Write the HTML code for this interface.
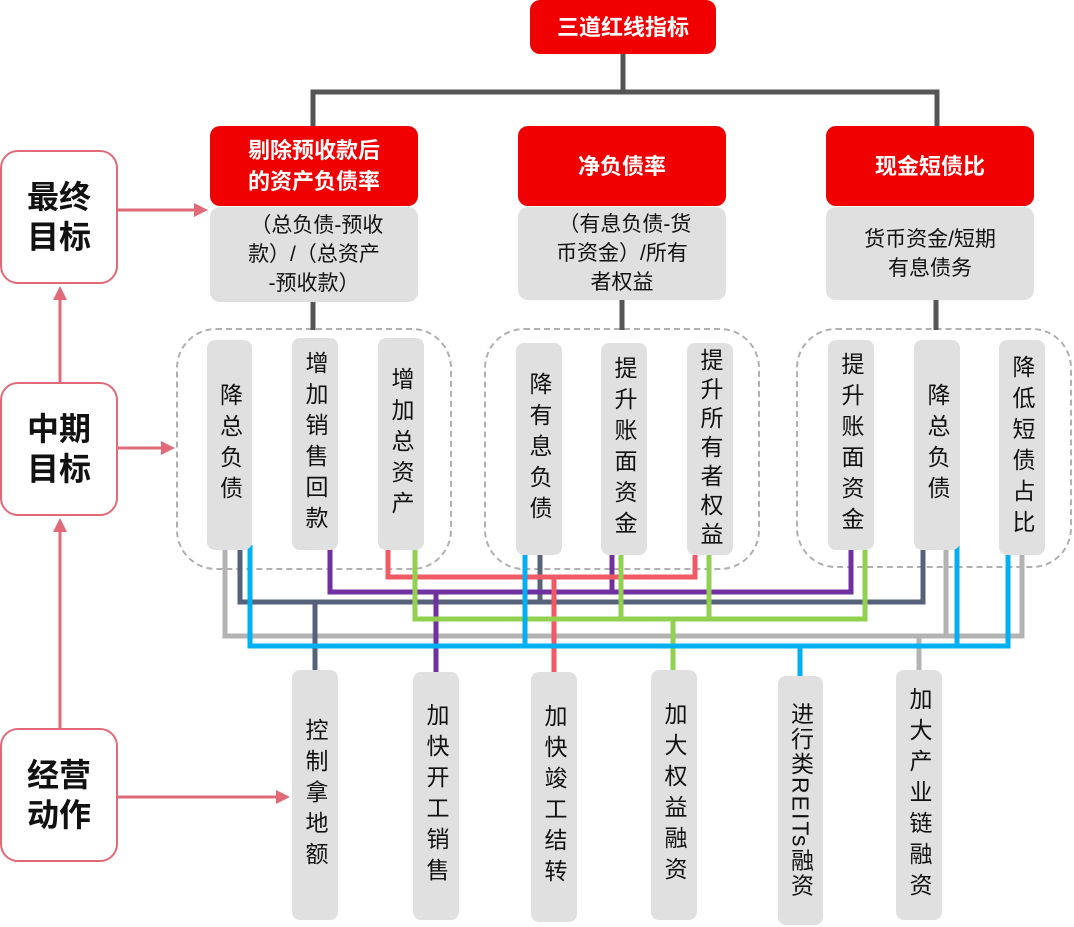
<!DOCTYPE html>
<html><head><meta charset="utf-8"><style>
body{margin:0;width:1074px;height:927px;background:#fff;position:relative;overflow:hidden;font-family:"Liberation Sans","Noto Sans CJK SC",sans-serif;}
.a{position:absolute;box-sizing:border-box;display:flex;align-items:center;justify-content:center;text-align:center;}
.red{background:#f00000;color:#fff;font-weight:bold;font-size:22px;line-height:31px;border-radius:10px;}
.f{background:#e0e0e0;color:#111;font-size:21px;line-height:29px;border-radius:10px;}
.v{background:#e0e0e0;color:#111;font-size:23px;border-radius:8px;}
.v span{writing-mode:vertical-rl;letter-spacing:8px;line-height:24px;white-space:nowrap;}
.l{border:2px solid #e06a78;border-radius:18px;background:#fff;font-size:32px;font-weight:bold;line-height:40px;color:#111;}
.d{position:absolute;border:2px dashed #b0b0b0;border-radius:40px;box-sizing:border-box;}
</style></head><body>
<div class="d" style="left:176px;top:328px;width:276px;height:242px"></div>
<div class="d" style="left:484px;top:328px;width:276px;height:242px"></div>
<div class="d" style="left:796px;top:328px;width:276px;height:240px"></div>
<svg style="position:absolute;left:0;top:0" width="1074" height="927">
<g fill="none" stroke-width="5">
<path d="M623 54V92M313 126V92H937V126M313 300V330M622 300V330M936 300V330" stroke="#555" stroke-width="5"/>
<path d="M225 545V636H1022V555M946 545V636M919 636V672" stroke="#b3b3b3"/>
<path d="M240 545V602H923V550M540 555V602M315 602V672" stroke="#56627a"/>
<path d="M330 545V592H851V550M612 555V592M436 592V674" stroke="#7030a0"/>
<path d="M388 550V577H695V555M554 577V674" stroke="#f05a64"/>
<path d="M415 550V619H865V550M621 555V619M709 555V619M673 619V672" stroke="#92d050"/>
<path d="M250 545V646H1008V555M525 555V646M957 545V646M800 646V678" stroke="#00b0f0"/>
</g>
<g stroke="#e06a78" stroke-width="3" fill="#e06a78">
<path d="M118 210H196" fill="none"/><path d="M208 210L194 203V217Z" stroke="none"/>
<path d="M118 448H163" fill="none"/><path d="M175 448L161 441V455Z" stroke="none"/>
<path d="M118 797H278" fill="none"/><path d="M290 797L276 790V804Z" stroke="none"/>
<path d="M60 382V298" fill="none"/><path d="M60 286L53 300H67Z" stroke="none"/>
<path d="M60 728V530" fill="none"/><path d="M60 518L53 532H67Z" stroke="none"/>
</g>
</svg>
<div class="a red" style="left:530px;top:0;width:186px;height:54px">三道红线指标</div>
<div class="a red" style="left:210px;top:126px;width:208px;height:80px">剔除预收款后<br>的资产负债率</div>
<div class="a red" style="left:518px;top:126px;width:208px;height:80px">净负债率</div>
<div class="a red" style="left:826px;top:126px;width:208px;height:80px">现金短债比</div>
<div class="a f" style="left:210px;top:207px;width:208px;height:95px">&nbsp;（总负债-预收<br>款）/（总资产<br>-预收款）</div>
<div class="a f" style="left:518px;top:207px;width:208px;height:93px">&nbsp;（有息负债-货<br>币资金）/所有<br>者权益</div>
<div class="a f" style="left:826px;top:207px;width:208px;height:93px">货币资金/短期<br>有息债务</div>
<div class="a l" style="left:0;top:150px;width:118px;height:134px">最终<br>目标</div>
<div class="a l" style="left:0;top:382px;width:118px;height:134px">中期<br>目标</div>
<div class="a l" style="left:0;top:728px;width:118px;height:134px">经营<br>动作</div>
<div class="a v" style="left:207px;top:340px;width:45px;height:210px"><span>降总负债</span></div>
<div class="a v" style="left:292px;top:338px;width:46px;height:212px"><span>增加销售回款</span></div>
<div class="a v" style="left:378px;top:338px;width:46px;height:212px"><span>增加总资产</span></div>
<div class="a v" style="left:516px;top:343px;width:46px;height:212px"><span>降有息负债</span></div>
<div class="a v" style="left:601px;top:343px;width:46px;height:212px"><span>提升账面资金</span></div>
<div class="a v" style="left:687px;top:343px;width:46px;height:212px"><span style="letter-spacing:6px">提升所有者权益</span></div>
<div class="a v" style="left:828px;top:340px;width:46px;height:210px"><span>提升账面资金</span></div>
<div class="a v" style="left:914px;top:340px;width:46px;height:210px"><span>降总负债</span></div>
<div class="a v" style="left:999px;top:340px;width:46px;height:215px"><span>降低短债占比</span></div>
<div class="a v" style="left:292px;top:670px;width:46px;height:250px"><span>控制拿地额</span></div>
<div class="a v" style="left:413px;top:672px;width:46px;height:248px"><span>加快开工销售</span></div>
<div class="a v" style="left:531px;top:672px;width:46px;height:250px"><span>加快竣工结转</span></div>
<div class="a v" style="left:651px;top:670px;width:46px;height:250px"><span>加大权益融资</span></div>
<div class="a v" style="left:778px;top:676px;width:45px;height:249px"><span style="letter-spacing:2px">进行类REITs融资</span></div>
<div class="a v" style="left:896px;top:670px;width:46px;height:250px"><span>加大产业链融资</span></div>
</body></html>
